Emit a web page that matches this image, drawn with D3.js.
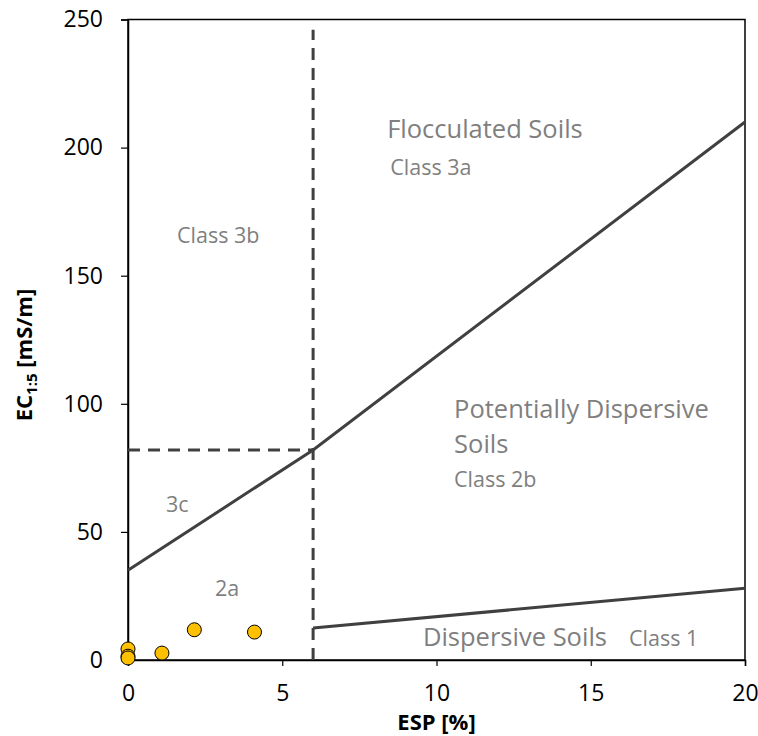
<!DOCTYPE html>
<html>
  <head>
    <meta charset="utf-8">
    <title>ESP vs EC</title>
    <script src="https://d3js.org/d3.v7.min.js"></script>
    <style>
      body { margin: 0; background: #fff; }
      text { font-family: "Open Sans", sans-serif; }
    </style>
  </head>
  <body>
    <script>
      // measured samples
      var espValues = [0, 0, 0, 1.1, 2.15, 4.1];
      var ecValues = [4.3, 1.5, 0.8, 2.7, 11.8, 10.9];

      // class boundaries
      var upperBoundary = [[0, 35], [6, 82], [20, 210]];
      var lowerBoundary = [[6, 12.5], [20, 28]];
      var espLimit = [[6, 0], [6, 246]];
      var ecLimit = [[0, 82], [6, 82]];

      var xTicks = [0, 5, 10, 15, 20];
      var yTicks = [0, 50, 100, 150, 200, 250];

      // region labels: [esp, ec, text, big?]
      var regionLabels = [
        [8.4, 203.7, "Flocculated Soils", true],
        [8.5, 189.3, "Class 3a", false],
        [1.59, 162.8, "Class 3b", false],
        [10.57, 94.5, "Potentially Dispersive", true],
        [10.57, 80.8, "Soils", true],
        [10.57, 67.5, "Class 2b", false],
        [1.23, 57.8, "3c", false],
        [2.82, 25, "2a", false],
        [9.56, 5.5, "Dispersive Soils", true],
        [16.24, 5.5, "Class 1", false]
      ];

      var W = 758, H = 736;
      var margin = {top: 19.5, right: 13, bottom: 76, left: 128};
      var w = W - margin.left - margin.right;
      var h = H - margin.top - margin.bottom;

      var svg = d3.select("body").append("svg")
        .attr("width", W).attr("height", H);
      var g = svg.append("g")
        .attr("transform", "translate(" + margin.left + "," + margin.top + ")");

      var x = d3.scaleLinear().domain([0, 20]).range([0, w]);
      var y = d3.scaleLinear().domain([0, 250]).range([h, 0]);

      // frame
      g.append("rect")
        .attr("width", w).attr("height", h)
        .attr("fill", "none").attr("stroke", "#000").attr("stroke-width", 1.5);

      var xAxis = g.append("g")
        .attr("transform", "translate(0," + h + ")")
        .call(d3.axisBottom(x).tickValues(xTicks).tickSize(6).tickPadding(19));
      var yAxis = g.append("g")
        .call(d3.axisLeft(y).tickValues(yTicks).tickSize(7).tickPadding(18));
      [xAxis, yAxis].forEach(function(a) {
        a.select(".domain").attr("stroke-width", 1.5);
        a.selectAll(".tick line").attr("stroke-width", 1.2);
        a.selectAll(".tick text")
          .attr("font-family", "Open Sans, sans-serif")
          .attr("font-size", 23).attr("fill", "#000");
      });

      var line = d3.line().x(function(d) { return x(d[0]); }).y(function(d) { return y(d[1]); });

      [upperBoundary, lowerBoundary].forEach(function(d) {
        g.append("path").attr("d", line(d))
          .attr("fill", "none").attr("stroke", "#404040").attr("stroke-width", 3);
      });
      [espLimit, ecLimit].forEach(function(d) {
        g.append("path").attr("d", line(d))
          .attr("fill", "none").attr("stroke", "#404040").attr("stroke-width", 3)
          .attr("stroke-dasharray", "12,8");
      });

      // labels
      g.selectAll(".region")
        .data(regionLabels)
        .enter().append("text")
        .attr("class", "region")
        .attr("x", function(d) { return x(d[0]); })
        .attr("y", function(d) { return y(d[1]); })
        .attr("font-size", function(d) { return d[3] ? 25.5 : 21.5; })
        .attr("fill", "#7f7f7f")
        .text(function(d) { return d[2]; });

      // points
      g.selectAll(".pt")
        .data(espValues)
        .enter().append("circle")
        .attr("class", "pt")
        .attr("cx", function(d) { return x(d); })
        .attr("cy", function(d, i) { return y(ecValues[i]); })
        .attr("r", 7)
        .attr("fill", "#FFC000")
        .attr("stroke", "#000")
        .attr("stroke-width", 1);

      // axis titles
      svg.append("text")
        .attr("x", margin.left + w / 2).attr("y", 730)
        .attr("text-anchor", "middle")
        .attr("font-size", 22).attr("font-weight", "bold")
        .text("ESP [%]");

      var yt = svg.append("text")
        .attr("transform", "translate(32," + 355 + ") rotate(-90)")
        .attr("text-anchor", "middle")
        .attr("font-size", 22).attr("font-weight", "bold");
      yt.append("tspan").text("EC");
      yt.append("tspan").attr("font-size", 15).attr("dy", 5).text("1:5");
      yt.append("tspan").attr("dy", -5).text(" [mS/m]");
    </script>
  </body>
</html>
